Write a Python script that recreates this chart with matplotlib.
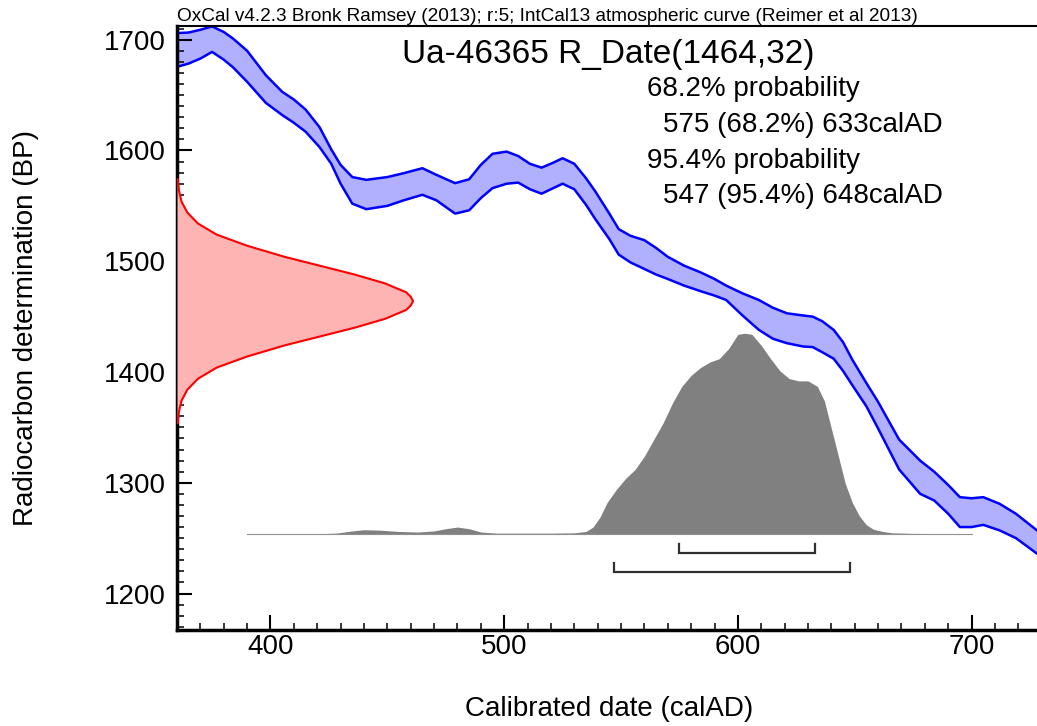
import numpy as np
import matplotlib
matplotlib.use("Agg")
from matplotlib import pyplot as plt
from matplotlib.ticker import MultipleLocator

plt.rcParams['font.family'] = ['Liberation Sans', 'DejaVu Sans']

# IntCal13 band: calAD, upper and lower edge in BP
curve_x = [360, 365, 370, 375, 380, 384, 390, 398, 405, 410, 415, 421, 426, 430,
           435, 441, 450, 457, 465, 471, 479, 485, 490, 495, 501, 506, 511, 516,
           521, 525, 530, 535, 539, 545, 549, 554, 560, 565, 570, 577, 584, 590,
           595, 602, 609, 615, 621, 628, 632, 636, 641, 645, 649, 655, 660, 669,
           678, 684, 690, 695, 700, 705, 712, 719, 728]
curve_hi = [1706, 1706.5, 1709, 1712, 1707, 1701, 1690, 1668, 1653, 1646, 1637, 1621, 1601, 1587,
            1576, 1573.5, 1576, 1579.5, 1584, 1578, 1570.5, 1574, 1587, 1597, 1599, 1595, 1588, 1584.5,
            1589, 1593, 1588, 1575, 1563, 1543, 1529, 1523, 1519, 1512, 1504, 1496, 1490, 1484,
            1478, 1471, 1465, 1458, 1453, 1451, 1450, 1446, 1438, 1427, 1411, 1390, 1373, 1339,
            1320, 1310, 1298, 1287, 1286, 1287, 1281, 1272, 1257]
curve_lo = [1675.5, 1678.5, 1683, 1689, 1682, 1675, 1662, 1643, 1632, 1625, 1617, 1603, 1588, 1570,
            1552, 1547, 1550, 1555, 1560, 1555, 1543, 1546, 1557, 1566, 1570, 1571, 1565, 1561,
            1566, 1570, 1565, 1551, 1538, 1520, 1506, 1499, 1493, 1488, 1484, 1478, 1473, 1469,
            1465, 1451, 1438, 1430, 1426, 1423, 1422.5, 1418, 1412, 1401, 1388, 1369, 1349, 1312,
            1290, 1284, 1272, 1260, 1260, 1262, 1257, 1250, 1236]

# R_Date(1464,32): BP and width of the curve out from the axis (years)
rc_bp = [1354, 1364, 1374, 1384, 1394, 1404, 1414, 1424, 1432, 1440, 1448, 1456, 1460,
         1464, 1468, 1472, 1480, 1488, 1496, 1504, 1514, 1524, 1534, 1544, 1554, 1564, 1574]
rc_w = [0.3, 0.8, 1.9, 4.4, 9, 17, 30, 46, 61, 76, 89, 98, 100,
        101, 100, 98, 89, 76, 61, 46, 30, 17, 9, 4.4, 1.9, 0.8, 0.3]

# calibrated distribution: calAD, height above the baseline (BP units)
cal_x = [390, 420, 428, 435, 440, 447, 455, 463, 470, 475, 480, 485, 490, 497, 510,
         520, 530, 535, 538, 541, 544, 548, 552, 556, 560, 564, 568, 572, 576, 580,
         584, 588, 592, 596, 600, 603, 606, 610, 614, 618, 622, 626, 630, 634, 637,
         640, 643, 646, 649, 652, 655, 658, 662, 666, 675, 690, 700]
cal_h = [0, 0, 0.5, 2.5, 3.6, 3.2, 2, 1.5, 2.5, 4.5, 6, 4.5, 1.5, 0.5, 0.5,
         0.5, 0.8, 2, 6, 15, 28, 40, 50, 58, 70, 85, 100, 118, 133, 143,
         150, 155, 158, 167, 180, 181, 180, 170, 158, 147, 140, 138, 138, 133, 120,
         95, 70, 45, 28, 16, 8, 4, 2, 0.8, 0.3, 0.1, 0]
cal_base = 1254

range_68 = [575, 633]
range_95 = [547, 648]

title = "OxCal v4.2.3 Bronk Ramsey (2013); r:5; IntCal13 atmospheric curve (Reimer et al 2013)"

fig = plt.figure(figsize=(10.37, 7.26), dpi=100)
ax = fig.add_axes([0.1707, 0.1329, 0.8293, 0.8313])
ax.set_xlim(360, 728)
ax.set_ylim(1167.5, 1712.4)

# calibration curve
ax.fill_between(curve_x, curve_lo, curve_hi, color='#b0b0ff', lw=0)
ax.plot(curve_x, curve_hi, color='#0000ff', lw=1.8, solid_joinstyle='round')
ax.plot(curve_x, curve_lo, color='#0000ff', lw=1.8, solid_joinstyle='round')

# measurement on the y axis
x0 = ax.get_xlim()[0]
rc_edge = np.add(x0, rc_w)
ax.fill_betweenx(rc_bp, x0, rc_edge, color='#ffb4b4', lw=0, zorder=3)
ax.plot(rc_edge, rc_bp, color='#ff0000', lw=1.5, zorder=3, solid_joinstyle='round')

# calibrated date
ax.fill_between(cal_x, cal_base, np.add(cal_base, cal_h), color='#808080', lw=0)
ax.plot([cal_x[0], cal_x[-1]], [cal_base, cal_base], color='#909090', lw=0.8)

# ranges
for (a, b), y in [(range_68, 1236.3), (range_95, 1219.7)]:
    ax.plot([a, a, b, b], [y + 8, y, y, y + 8], color='#303030', lw=1.6,
            solid_joinstyle='miter')

ax.xaxis.set_major_locator(MultipleLocator(100))
ax.xaxis.set_minor_locator(MultipleLocator(10))
ax.yaxis.set_major_locator(MultipleLocator(100))
ax.yaxis.set_minor_locator(MultipleLocator(10))
ax.tick_params(which='both', direction='in', top=False, right=False)
ax.tick_params(which='major', length=10.5, width=1.5, labelsize=20)
ax.tick_params(which='minor', length=5, width=1.1)
ax.tick_params(axis='x', pad=3)
ax.tick_params(axis='y', pad=8)

ax.spines['right'].set_visible(False)
ax.spines['left'].set_linewidth(2.5)
ax.spines['bottom'].set_linewidth(2.5)
ax.spines['top'].set_linewidth(1.5)

ax.text(0, 1.0083, title, transform=ax.transAxes, fontsize=13.7, va='baseline', ha='left')
ax.text(0.262, 0.9386, "Ua-46365 R_Date(1464,32)", transform=ax.transAxes,
        fontsize=24, va='baseline')
ax.text(0.546, 0.8839, "68.2% probability", transform=ax.transAxes, fontsize=20, va='baseline')
ax.text(0.5646, 0.8242, "575 (68.2%) 633calAD", transform=ax.transAxes, fontsize=20, va='baseline')
ax.text(0.546, 0.7645, "95.4% probability", transform=ax.transAxes, fontsize=20, va='baseline')
ax.text(0.5646, 0.7065, "547 (95.4%) 648calAD", transform=ax.transAxes, fontsize=20, va='baseline')

ax.text(0.503, -0.1426, "Calibrated date (calAD)", transform=ax.transAxes,
        fontsize=20, ha='center', va='baseline')
ax.text(-0.1758, 0.5, "Radiocarbon determination (BP)", transform=ax.transAxes,
        fontsize=20, rotation=90, ha='center', va='center')

plt.savefig("out.png", dpi=100)
